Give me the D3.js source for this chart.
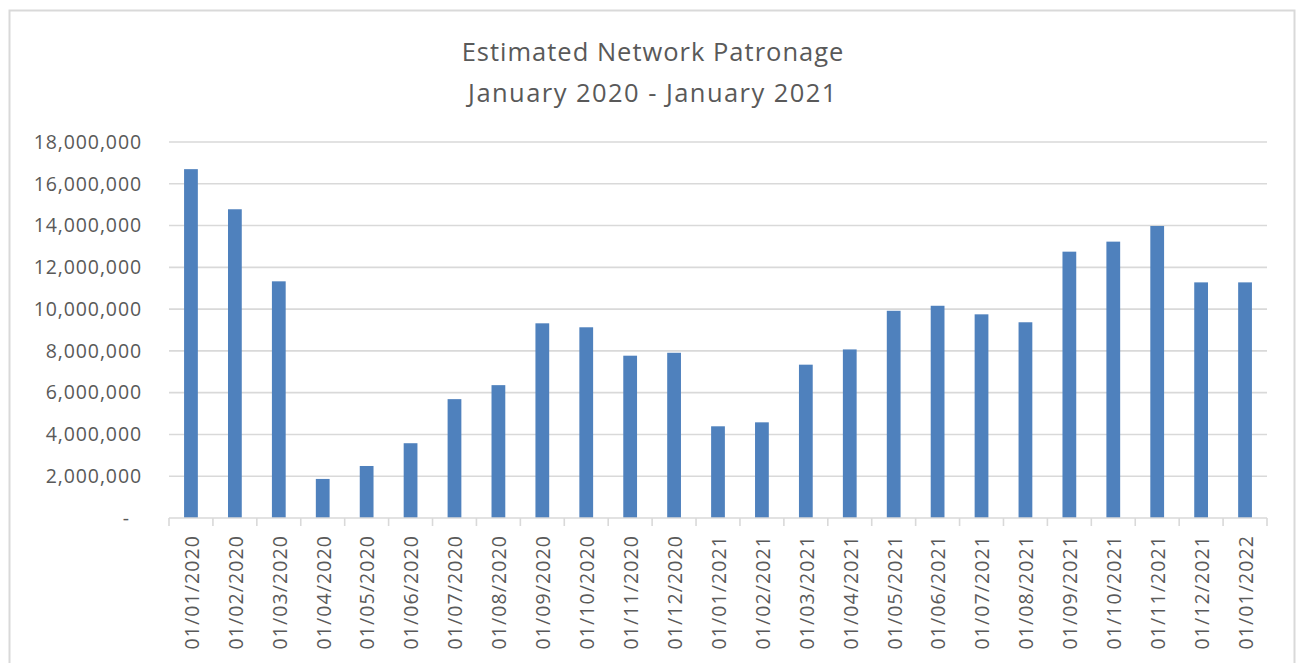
<!DOCTYPE html>
<html>
<head>
<meta charset="utf-8">
<script src="https://cdn.jsdelivr.net/npm/d3@7"></script>
<style>
  html, body { margin: 0; padding: 0; background: #fff; }
  svg { display: block; font-family: "Open Sans", "Noto Sans", sans-serif; }
</style>
</head>
<body>
<svg id="chart" width="1297" height="663"></svg>
<script>
// Monthly patronage estimates
const months = [
  "01/01/2020", "01/02/2020", "01/03/2020", "01/04/2020", "01/05/2020",
  "01/06/2020", "01/07/2020", "01/08/2020", "01/09/2020", "01/10/2020",
  "01/11/2020", "01/12/2020", "01/01/2021", "01/02/2021", "01/03/2021",
  "01/04/2021", "01/05/2021", "01/06/2021", "01/07/2021", "01/08/2021",
  "01/09/2021", "01/10/2021", "01/11/2021", "01/12/2021", "01/01/2022"
];
const patronage = [
  16700000, 14780000, 11330000, 1870000, 2490000,
  3580000, 5690000, 6360000, 9320000, 9130000,
  7770000, 7910000, 4390000, 4580000, 7340000,
  8070000, 9920000, 10160000, 9750000, 9370000,
  12750000, 13230000, 13980000, 11280000, 11280000
];
const yTicks = [0, 2000000, 4000000, 6000000, 8000000, 10000000, 12000000, 14000000, 16000000, 18000000];
const titleLines = ["Estimated Network Patronage", "January 2020 - January 2021"];

const svg = d3.select("#chart");
const plot = { left: 169, right: 1267, top: 142, bottom: 518 };
const textColor = "#595959";
const gridColor = "#d9d9d9";
const barColor = "#4f81bd";

// outer chart frame
svg.append("rect")
  .attr("x", 9.5).attr("y", 10.5)
  .attr("width", 1285).attr("height", 680)
  .attr("fill", "#fff").attr("stroke", gridColor).attr("stroke-width", 2);

// title, two centred lines
svg.append("g").selectAll("text").data(titleLines).join("text")
  .attr("x", 653).attr("y", (d, i) => 61 + i * 41)
  .attr("text-anchor", "middle")
  .attr("fill", textColor)
  .attr("font-size", 25.5)
  .attr("letter-spacing", (d, i) => i === 0 ? 1.0 : 1.45)
  .text(d => d);

const x = d3.scaleBand().domain(months).range([plot.left, plot.right]).paddingInner(0).paddingOuter(0);
const y = d3.scaleLinear().domain([0, 18000000]).range([plot.bottom, plot.top]);

// horizontal gridlines
svg.append("g").selectAll("line").data(yTicks.filter(d => d > 0)).join("line")
  .attr("x1", plot.left).attr("x2", plot.right)
  .attr("y1", d => y(d)).attr("y2", d => y(d))
  .attr("stroke", gridColor).attr("stroke-width", 1.6);

// y axis labels
const fmt = d3.format(",");
const yAxis = d3.axisLeft(y).tickValues(yTicks).tickSize(0).tickPadding(27)
  .tickFormat(d => d === 0 ? "-" : fmt(d));
const yg = svg.append("g").attr("transform", `translate(${plot.left},0)`).call(yAxis);
yg.select(".domain").remove();
yg.selectAll("text")
  .attr("fill", textColor)
  .attr("font-size", 19.5)
  .attr("letter-spacing", 0.9)
  .attr("font-family", "Open Sans, sans-serif")
  .attr("dx", d => d === 0 ? -12 : 0);

// bars
const barW = x.bandwidth() / 3.19;
svg.append("g").selectAll("rect").data(months.map((m, i) => ({ m, v: patronage[i] }))).join("rect")
  .attr("x", d => x(d.m) + x.bandwidth() / 2 - barW / 2)
  .attr("width", barW)
  .attr("y", d => y(d.v))
  .attr("height", d => y(0) - y(d.v))
  .attr("fill", barColor);

// x axis line and boundary ticks
const xa = svg.append("g");
xa.append("line")
  .attr("x1", plot.left).attr("x2", plot.right)
  .attr("y1", plot.bottom).attr("y2", plot.bottom)
  .attr("stroke", gridColor).attr("stroke-width", 1.6);
const bounds = months.map(m => x(m)).concat([plot.right]);
xa.selectAll("line.tick").data(bounds).join("line")
  .attr("class", "tick")
  .attr("x1", d => d).attr("x2", d => d)
  .attr("y1", plot.bottom).attr("y2", plot.bottom + 8)
  .attr("stroke", gridColor).attr("stroke-width", 1.6);

// rotated month labels
xa.selectAll("text").data(months).join("text")
  .attr("transform", d => `translate(${x(d) + x.bandwidth() / 2 + 1},535) rotate(-90)`)
  .attr("text-anchor", "end")
  .attr("dy", "0.35em")
  .attr("fill", textColor)
  .attr("font-size", 19.5)
  .attr("letter-spacing", 1.1)
  .text(d => d);
</script>
</body>
</html>
